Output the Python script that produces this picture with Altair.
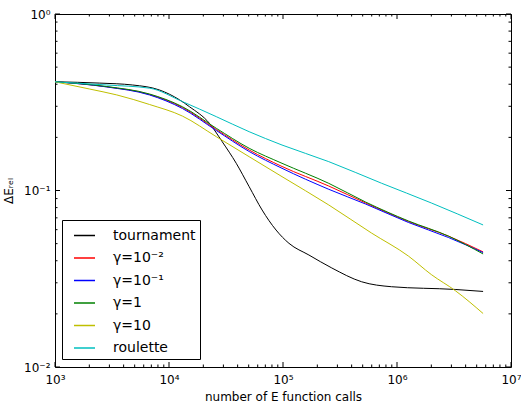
import altair as alt
import pandas as pd

# ---- data ----
series_names = ["tournament", "γ=10⁻²", "γ=10⁻¹", "γ=1", "γ=10", "roulette"]
series_colors = ["#000000", "#ff0000", "#0000ff", "#008000", "#bfbf00", "#00bfbf"]

tournament_x = [1000, 2470, 4800, 8260, 12400, 15100, 22600, 29300, 38900, 50500,
                65600, 86900, 112800, 168700, 267800, 489700, 895000, 3240000, 5690000]
tournament_y = [0.413, 0.406, 0.396, 0.371, 0.326, 0.2985, 0.2404, 0.189, 0.1426, 0.1051,
                0.0775, 0.0597, 0.0502, 0.0431, 0.0364, 0.0304, 0.0285, 0.0275, 0.0268]

gamma_x = [1000, 2846, 6760, 13120, 26000, 50500, 98000, 252000, 531000, 1260000, 2820000, 5690000]
gamma_1e_2_y = [0.413, 0.387, 0.350, 0.2953, 0.2216, 0.1696, 0.1368, 0.1060, 0.0850, 0.0667, 0.0552, 0.0449]
gamma_1e_1_y = [0.413, 0.386, 0.3477, 0.2914, 0.2187, 0.1663, 0.1336, 0.1016, 0.0838, 0.0659, 0.0542, 0.0445]
gamma_1_y = [0.413, 0.388, 0.352, 0.2983, 0.2251, 0.1735, 0.1426, 0.1098, 0.0860, 0.0672, 0.0552, 0.0437]

gamma_10_x = [1000, 2000, 3480, 6760, 13120, 26000, 50500, 98000, 252000, 598000,
              1260000, 2000000, 3240000, 5690000]
gamma_10_y = [0.413, 0.376, 0.348, 0.307, 0.264, 0.2018, 0.1554, 0.1198, 0.0828, 0.0574,
              0.0425, 0.0334, 0.0271, 0.0201]

roulette_x = [1000, 2846, 6760, 13120, 26000, 50500, 98000, 252000, 733000, 2000000, 5690000]
roulette_y = [0.413, 0.396, 0.380, 0.319, 0.262, 0.2153, 0.181, 0.1457, 0.1099, 0.0850, 0.0638]

x_tick_values = [1e3, 1e4, 1e5, 1e6, 1e7]
x_tick_labels = ["10³", "10⁴", "10⁵", "10⁶", "10⁷"]
y_tick_values = [1e-2, 1e-1, 1.0]
y_tick_labels = ["10⁻²", "10⁻¹", "10⁰"]
x_minor = [k * 10 ** e for e in range(3, 7) for k in range(2, 10)]
y_minor = [k * 10.0 ** e for e in (-2, -1) for k in range(2, 10)]

x_title = "number of E function calls"
y_title = "ΔEᵣₑₗ"

# ---- build table ----
rows = []
for name, xs, ys in [
    (series_names[0], tournament_x, tournament_y),
    (series_names[1], gamma_x, gamma_1e_2_y),
    (series_names[2], gamma_x, gamma_1e_1_y),
    (series_names[3], gamma_x, gamma_1_y),
    (series_names[4], gamma_10_x, gamma_10_y),
    (series_names[5], roulette_x, roulette_y),
]:
    for xv, yv in zip(xs, ys):
        rows.append({"series": name, "x": xv, "y": yv})
df = pd.DataFrame(rows)


def label_expr(values, labels):
    parts = [f"datum.value < {v * 1.5!r} ? '{lab}'" for v, lab in zip(values, labels)]
    return " : ".join(parts) + " : ''"


W, H = 456, 353
FONT = "DejaVu Sans"
xscale = alt.Scale(type="log", domain=[1e3, 1e7], nice=False)
yscale = alt.Scale(type="log", domain=[1e-2, 1], nice=False)

xaxis = alt.Axis(
    values=x_tick_values, labelExpr=label_expr(x_tick_values, x_tick_labels),
    title=x_title, ticks=False, domain=False, grid=False,
    labelFont=FONT, labelFontSize=12, labelColor="black", labelPadding=7,
    labelFlush=False, labelOverlap=False,
    titleFont=FONT, titleFontSize=12, titleFontWeight="normal", titleColor="black",
    titlePadding=6)
yaxis = alt.Axis(
    values=y_tick_values, labelExpr=label_expr(y_tick_values, y_tick_labels),
    title=y_title, ticks=False, domain=False, grid=False,
    labelFont=FONT, labelFontSize=12, labelColor="black", labelPadding=5,
    labelFlush=False, labelOverlap=False,
    titleFont=FONT, titleFontSize=12, titleFontWeight="normal", titleColor="black",
    titlePadding=8)

lines = alt.Chart(df).mark_line(strokeWidth=1, interpolate="monotone").encode(
    x=alt.X("x:Q", scale=xscale, axis=xaxis),
    y=alt.Y("y:Q", scale=yscale, axis=yaxis),
    color=alt.Color("series:N", sort=series_names,
                    scale=alt.Scale(domain=series_names, range=series_colors),
                    legend=alt.Legend(
                        title=None, orient="none", legendX=7, legendY=206,
                        fillColor="white", strokeColor="black", padding=4,
                        cornerRadius=0, symbolType="stroke", symbolSize=441,
                        symbolStrokeWidth=1.5, symbolOffset=7, labelOffset=17,
                        labelFont=FONT, labelFontSize=14, labelColor="black",
                        labelLimit=300, rowPadding=3.5)),
)

xmaj = pd.DataFrame({"x": x_tick_values})
xmin = pd.DataFrame({"x": x_minor})
ymaj = pd.DataFrame({"y": y_tick_values})
ymin = pd.DataFrame({"y": y_minor})


def xticks(data, length):
    base = alt.Chart(data).mark_rule(color="black", strokeWidth=1)
    enc = alt.X("x:Q", scale=xscale, axis=xaxis)
    return [
        base.encode(x=enc, y=alt.value(H), y2=alt.value(H - length)),
        base.encode(x=enc, y=alt.value(0), y2=alt.value(length)),
    ]


def yticks(data, length):
    base = alt.Chart(data).mark_rule(color="black", strokeWidth=1)
    enc = alt.Y("y:Q", scale=yscale, axis=yaxis)
    return [
        base.encode(y=enc, x=alt.value(0), x2=alt.value(length)),
        base.encode(y=enc, x=alt.value(W), x2=alt.value(W - length)),
    ]


layers = [lines] + xticks(xmaj, 5) + xticks(xmin, 2.5) + yticks(ymaj, 5) + yticks(ymin, 2.5)

chart = alt.layer(*layers).properties(
    width=W, height=H,
    padding={"left": 55, "top": 14, "right": 10, "bottom": 36},
    autosize=alt.AutoSizeParams(type="none"),
    background="white",
).configure_view(stroke="black", strokeWidth=1)

chart.save("out.html", embed_options={"renderer": "svg", "actions": False})
